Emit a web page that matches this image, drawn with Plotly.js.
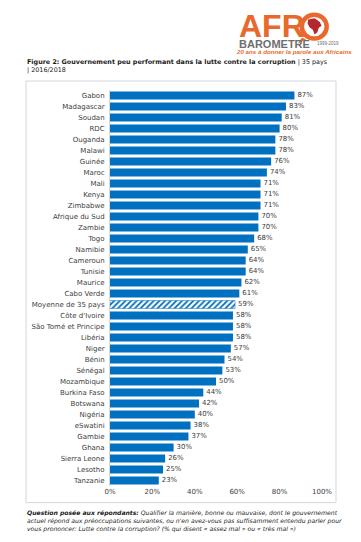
<!DOCTYPE html>
<html><head><meta charset="utf-8">
<script src="https://cdn.plot.ly/plotly-3.0.1.min.js"></script>
<style>html,body{margin:0;padding:0;background:#fff}#c{width:361px;height:542px}</style>
</head><body><div id="c"></div>
<script>
const countries = ["Gabon","Madagascar","Soudan","RDC","Ouganda","Malawi","Guinée","Maroc","Mali","Kenya","Zimbabwe","Afrique du Sud","Zambie","Togo","Namibie","Cameroun","Tunisie","Maurice","Cabo Verde","Moyenne de 35 pays","Côte d'Ivoire","São Tomé et Principe","Libéria","Niger","Bénin","Sénégal","Mozambique","Burkina Faso","Botswana","Nigéria","eSwatini","Gambie","Ghana","Sierra Leone","Lesotho","Tanzanie"];
const values = [87,83,81,80,78,78,76,74,71,71,71,70,70,68,65,64,64,62,61,59,58,58,58,57,54,53,50,44,42,40,38,37,30,26,25,23];
const xTicks = [0,20,40,60,80,100];
const xTickLabels = ["0%","20%","40%","60%","80%","100%"];
const averageLabel = "Moyenne de 35 pays";

const blue = "#0070C0";
const isAvg = countries.map(c => c === averageLabel);

const trace = {
  type: "bar",
  orientation: "h",
  x: values,
  y: countries,
  width: 0.72,
  marker: {
    color: blue,
    line: {color: blue, width: isAvg.map(a => a ? 0.5 : 0)},
    pattern: {
      shape: isAvg.map(a => a ? "/" : ""),
      fgcolor: blue,
      bgcolor: "#ffffff",
      size: 4,
      solidity: 0.45,
      fillmode: "replace"
    }
  },
  text: values.map(v => v + "%"),
  textposition: "outside",
  cliponaxis: false,
  textfont: {family: "DejaVu Sans", size: 7, color: "#404040"},
  hoverinfo: "none"
};

const font = "DejaVu Sans";
const layout = {
  width: 361, height: 542,
  margin: {l: 110, r: 39, t: 90, b: 56},
  paper_bgcolor: "#fff", plot_bgcolor: "#fff",
  showlegend: false,
  bargap: 0.28,
  xaxis: {
    range: [0, 100], tickvals: xTicks, ticktext: xTickLabels,
    showgrid: false, zeroline: false, showline: false, ticks: "",
    tickfont: {family: font, size: 7, color: "#404040"},
    fixedrange: true
  },
  yaxis: {
    categoryorder: "array", categoryarray: countries.slice().reverse(),
    autorange: false, range: [-0.5, countries.length - 0.5],
    showgrid: false, zeroline: false, showline: true, linecolor: "#d9d9d9", linewidth: 1,
    ticks: "", ticklabelstandoff: 3,
    tickfont: {family: font, size: 7, color: "#404040"},
    fixedrange: true
  },
  shapes: [
    {type: "rect", xref: "paper", yref: "paper", x0: -0.396, x1: 1.066, y0: -0.042, y1: 1.0227,
     line: {color: "#d0d7e0", width: 1}, fillcolor: "rgba(0,0,0,0)", layer: "below"},
    {type: "path", xref: "paper", yref: "paper",
     path: "M 0.905 1.132 L 0.885 1.117 L 0.925 1.128 Z",
     line: {width: 0}, fillcolor: "#E8692D"},
    {type: "circle", xref: "paper", yref: "paper", x0: 0.905, x1: 1.022, y0: 1.130, y1: 1.190,
     line: {color: "#E8692D", width: 4.5}, fillcolor: "#ffffff"},
    {type: "path", xref: "paper", yref: "paper",
     path: "M 0.935 1.178 L 0.965 1.181 L 0.99 1.172 L 0.998 1.162 L 0.985 1.157 L 0.978 1.146 L 0.965 1.140 L 0.957 1.152 L 0.942 1.158 L 0.932 1.168 Z",
     line: {width: 0}, fillcolor: "#B5272D"}
  ],
  annotations: [
    {xref: "paper", yref: "paper", x: 0.6, y: 1.161, xanchor: "left", yanchor: "middle",
     text: "<b>AFR</b>", showarrow: false,
     font: {family: "Liberation Sans", size: 32, color: "#E8692D"}},
    {xref: "paper", yref: "paper", x: 0.6, y: 1.116, xanchor: "left", yanchor: "middle",
     text: "<b>BAROMETRE</b>", showarrow: false,
     font: {family: "Liberation Sans", size: 11, color: "#6d6e71"}},
    {xref: "paper", yref: "paper", x: 0.965, y: 1.118, xanchor: "left", yanchor: "middle",
     text: "1999-2019", showarrow: false,
     font: {family: "Liberation Sans", size: 4.5, color: "#6d6e71"}},
    {xref: "paper", yref: "paper", x: 0.585, y: 1.098, xanchor: "left", yanchor: "middle",
     text: "<b><i>20 ans à donner la parole aux Africains</i></b>", showarrow: false,
     font: {family: "Liberation Sans", size: 6.2, color: "#E8692D"}},
    {xref: "paper", yref: "paper", x: -0.4, y: 1.085, xanchor: "left", yanchor: "top", align: "left",
     text: "<b>Figure 2: Gouvernement peu performant dans la lutte contre la corruption</b> | 35 pays<br>| 2016/2018",
     showarrow: false,
     font: {family: font, size: 6.4, color: "#1a1a1a"}},
    {xref: "paper", yref: "paper", x: -0.4, y: -0.052, xanchor: "left", yanchor: "top", align: "left",
     text: "<b><i>Question posée aux répondants:</i></b><i> Qualifier la manière, bonne ou mauvaise, dont le gouvernement<br>actuel répond aux préoccupations suivantes, ou n'en avez-vous pas suffisamment entendu parler pour<br>vous prononcer: Lutte contre la corruption? (% qui disent « assez mal » ou « très mal »)</i>",
     showarrow: false,
     font: {family: font, size: 6.1, color: "#1a1a1a"}}
  ]
};

Plotly.newPlot("c", [trace], layout, {displayModeBar: false, staticPlot: true});
</script>
</body></html>
